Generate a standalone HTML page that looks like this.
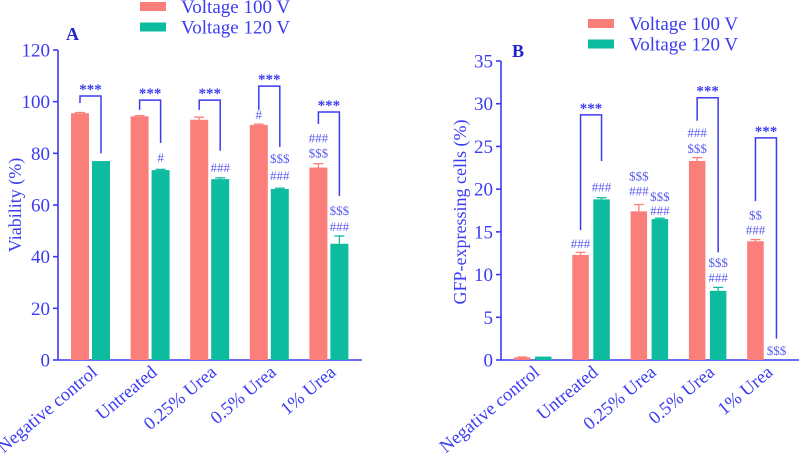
<!DOCTYPE html>
<html><head><meta charset="utf-8"><style>
html,body{margin:0;padding:0;background:#fff;}
svg{display:block;font-family:"Liberation Serif",serif;}
</style></head><body>
<svg id="svg" width="799" height="454" viewBox="0 0 799 454"></svg>
<script>
const categories=["Negative control","Untreated","0.25% Urea","0.5% Urea","1% Urea"];
const seriesNames=["Voltage 100 V","Voltage 120 V"];
const viabRed=[95.5,94.3,93,91,74.5];
const viabRedErr=[0.3,0.3,1,0.3,1.5];
const viabGreen=[77,73.5,70,66.2,45];
const viabGreenErr=[0,0.3,0.5,0.3,3];
const gfpRed=[0.3,12.3,17.4,23.3,13.9];
const gfpRedErr=[0.05,0.3,0.8,0.4,0.2];
const gfpGreen=[0.4,18.8,16.5,8.1,0];
const gfpGreenErr=[0,0.2,0.1,0.4,0];
const viabTicks=[0,20,40,60,80,100,120];
const gfpTicks=[0,5,10,15,20,25,30,35];
// brackets: [group, topValue, leftEndValue, rightEndValue]
const viabBrackets=[[0,102.2,99.5,80],[1,100.6,96.8,84],[2,100.6,96.8,81],[3,106,96.8,82.5],[4,96,91.4,63.5]];
const gfpBrackets=[[1,28.7,15.2,23.3],[3,30.7,28,12.6],[4,26,18.6,2.5]];
// annotations: [group, series(0 red/1 green), text, px above bar top]
const viabNotes=[[3,0,"#",11],[1,1,"#",13],[2,1,"###",12],[3,1,"$$$",31],[3,1,"###",14],[4,0,"###",30],[4,0,"$$$",15],[4,1,"$$$",34],[4,1,"###",18]];
const gfpNotes=[[1,0,"###",12],[1,1,"###",13],[2,0,"$$$",36],[2,0,"###",21],[2,1,"$$$",23],[2,1,"###",9],[3,0,"###",29],[3,0,"$$$",13],[3,1,"$$$",29],[3,1,"###",14],[4,0,"$$",27],[4,0,"###",12],[4,1,"$$$",10]];

const svg=document.getElementById('svg');
const NS="http://www.w3.org/2000/svg";
const BLUE="#3b3bf2",RED="#fa7e7a",GREEN="#0dbb9f";
function el(tag,attrs,parent){const e=document.createElementNS(NS,tag);for(const k in attrs)e.setAttribute(k,attrs[k]);(parent||svg).appendChild(e);return e;}

function chart(cfg){
  const g=el('g',{});
  
  
  const y=v=>cfg.y0-(v/cfg.max)*(cfg.y0-cfg.yTop);
  const xr=i=>cfg.redLeft+i*cfg.step;
  const xg=i=>cfg.greenLeft+i*cfg.step;
  const ya=el('line',{x1:cfg.ax,y1:cfg.yTop,x2:cfg.ax,y2:cfg.y0,stroke:BLUE,'stroke-width':1.6},g);
  
  const xa=el('line',{x1:cfg.ax,y1:cfg.y0,x2:cfg.axEnd,y2:cfg.y0,stroke:BLUE,'stroke-width':1.6},g);
  
  cfg.ticks.forEach(t=>{
    el('line',{x1:cfg.ax-5,x2:cfg.ax,y1:y(t),y2:y(t),stroke:BLUE,'stroke-width':1.6},g);
    const tl=el('text',{x:cfg.ax-8,y:y(t)+6.5,'text-anchor':'end','font-size':19,fill:BLUE},g);
    tl.textContent=t;
    
  });
  const yt=el('text',{x:0,y:0,'text-anchor':'middle','font-size':18,fill:BLUE,transform:`translate(${cfg.ylx},${cfg.yly}) rotate(-90)`},g);
  yt.textContent=cfg.ytitle;
  const pl=el('text',{x:cfg.lx,y:cfg.ly,'font-size':18,'font-weight':'bold',fill:'#2222cc'},g);
  pl.textContent=cfg.letter;
  function bar(x,w,v,e,col,nm){
    const r=el('rect',{x:x,y:y(v),width:w,height:cfg.y0-y(v),fill:col},g);
    
    if(e>0){const cx=x+w/2;
      el('line',{x1:cx,x2:cx,y1:y(v),y2:y(v+e),stroke:col,'stroke-width':1.3},g);
      el('line',{x1:cx-5,x2:cx+5,y1:y(v+e),y2:y(v+e),stroke:col,'stroke-width':1.3},g);}
  }
  categories.forEach((c,i)=>{
    bar(xr(i),cfg.w,cfg.red[i],cfg.redErr[i],RED,'bar-100v-'+i);
    bar(xg(i),cfg.w,cfg.green[i],cfg.greenErr[i],GREEN,'bar-120v-'+i);
    const cx=(xr(i)+xg(i)+cfg.w)/2+8;
    const lab=el('text',{x:0,y:0,'text-anchor':'end','font-size':18.5,fill:BLUE,transform:`translate(${cx},${cfg.y0+14}) rotate(-40)`},g);
    lab.textContent=c;
  });
  cfg.brackets.forEach(b=>{
    const a=xr(b[0])+cfg.w/2,bb=xg(b[0])+cfg.w/2;
    const p=el('path',{d:`M${a},${y(b[2])}V${y(b[1])}H${bb}V${y(b[3])}`,fill:'none',stroke:BLUE,'stroke-width':1.5},g);
    
    const s=el('text',{x:(a+bb)/2,y:y(b[1])-2,'text-anchor':'middle','font-size':15,fill:BLUE,'font-weight':'bold'},g);
    s.textContent='***';
  });
  cfg.notes.forEach(n=>{
    const isR=n[1]===0;const v=isR?cfg.red[n[0]]:cfg.green[n[0]];
    const cx=(isR?xr(n[0]):xg(n[0]))+cfg.w/2;
    const t=el('text',{x:cx,y:y(v)-n[3]+5,'text-anchor':'middle','font-size':13,fill:'#5a5af0'},g);
    t.textContent=n[2];
  });
  [RED,GREEN].forEach((c,k)=>{
    const r=el('rect',{x:cfg.legX,y:cfg.legY+k*20.5,width:26,height:9,fill:c},g);
    
    const t=el('text',{x:cfg.legX+41,y:cfg.legY+k*20.5+11,'font-size':19,fill:BLUE},g);
    t.textContent=seriesNames[k];
  });
}
chart({name:'viability-chart',ax:58,axEnd:362,yTop:50,y0:360,max:120,ticks:viabTicks,redLeft:71,greenLeft:92,step:59.6,w:18,
  red:viabRed,redErr:viabRedErr,green:viabGreen,greenErr:viabGreenErr,brackets:viabBrackets,notes:viabNotes,
  ytitle:'Viability (%)',ylx:21,yly:205,letter:'A',lx:66,ly:40,legX:140,legY:2});
chart({name:'gfp-chart',ax:501,axEnd:799,yTop:61,y0:360,max:35,ticks:gfpTicks,redLeft:514,greenLeft:535,step:58.3,w:16.5,
  red:gfpRed,redErr:gfpRedErr,green:gfpGreen,greenErr:gfpGreenErr,brackets:gfpBrackets,notes:gfpNotes,
  ytitle:'GFP-expressing cells (%)',ylx:466,yly:212,letter:'B',lx:512,ly:57,legX:588,legY:19});
</script>
</body></html>
